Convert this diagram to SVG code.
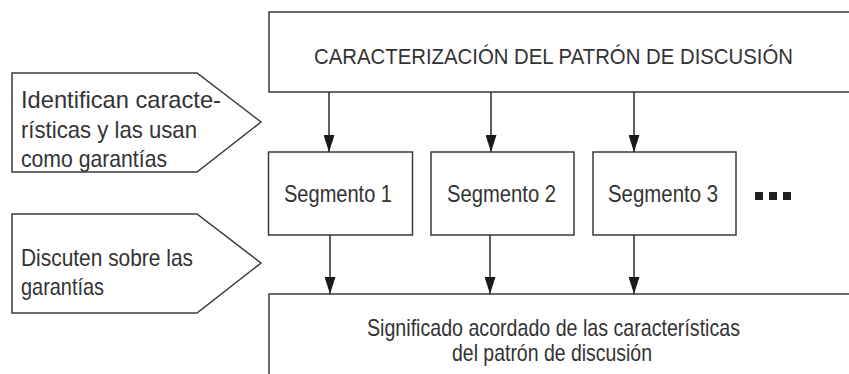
<svg xmlns="http://www.w3.org/2000/svg" width="849" height="374" viewBox="0 0 849 374">
<defs>
<style>
.box{fill:#fff;stroke:#3a3a3a;stroke-width:1.5}
.t{font-family:"Liberation Sans",Arial,sans-serif;font-size:24px;fill:#333}
.c{stroke:#2b2b2b;stroke-width:1.5;fill:none;marker-end:url(#ah)}
.dot{fill:#231f20}
</style>
<marker id="ah" viewBox="0 0 17 11" refX="17" refY="5.5" markerWidth="17" markerHeight="11" markerUnits="userSpaceOnUse" orient="auto">
<path d="M0,0 L17,5.5 L0,11 Z" fill="#1a1a1a"/>
</marker>
</defs>
<g id="top">
<path class="box" d="M849,12 H269 V92 H849"/>
<text class="t" x="314" y="64" style="font-size:21.5px" textLength="479" lengthAdjust="spacingAndGlyphs">CARACTERIZACIÓN DEL PATRÓN DE DISCUSIÓN</text>
</g>
<g id="note1">
<polygon class="box" points="12,73 197,73 261,122 197,172 12,172"/>
<text class="t" x="21" y="108" textLength="200" lengthAdjust="spacingAndGlyphs">Identifican caracte-</text>
<text class="t" x="21" y="138" textLength="176" lengthAdjust="spacingAndGlyphs">rísticas y las usan</text>
<text class="t" x="21" y="167" textLength="146" lengthAdjust="spacingAndGlyphs">como garantías</text>
</g>
<g id="note2">
<polygon class="box" points="12,214 197,214 261,263 197,313 12,313"/>
<text class="t" x="21" y="266" textLength="172" lengthAdjust="spacingAndGlyphs">Discuten sobre las</text>
<text class="t" x="21" y="295" textLength="83" lengthAdjust="spacingAndGlyphs">garantías</text>
</g>
<g id="seg1">
<rect class="box" x="268.5" y="152" width="144" height="83"/>
<text class="t" x="284" y="202" textLength="108" lengthAdjust="spacingAndGlyphs">Segmento 1</text>
</g>
<g id="seg2">
<rect class="box" x="431" y="152" width="143" height="83"/>
<text class="t" x="447" y="202" textLength="109" lengthAdjust="spacingAndGlyphs">Segmento 2</text>
</g>
<g id="seg3">
<rect class="box" x="593" y="152" width="143" height="83"/>
<text class="t" x="608" y="202" textLength="110" lengthAdjust="spacingAndGlyphs">Segmento 3</text>
</g>
<g id="more">
<rect class="dot" x="755" y="192" width="8" height="8"/>
<rect class="dot" x="769" y="192" width="8" height="8"/>
<rect class="dot" x="783" y="192" width="8" height="8"/>
</g>
<g id="bottom">
<path class="box" d="M849,294 H269 V374"/>
<text class="t" x="367" y="336" textLength="373" lengthAdjust="spacingAndGlyphs">Significado acordado de las características</text>
<text class="t" x="452" y="361" textLength="200" lengthAdjust="spacingAndGlyphs">del patrón de discusión</text>
</g>
<g id="connectors">
<line class="c" x1="329" y1="92" x2="329" y2="152"/>
<line class="c" x1="491" y1="92" x2="491" y2="152"/>
<line class="c" x1="634" y1="92" x2="634" y2="152"/>
<line class="c" x1="330" y1="235" x2="330" y2="294"/>
<line class="c" x1="490" y1="235" x2="490" y2="294"/>
<line class="c" x1="634" y1="235" x2="634" y2="294"/>
</g>
</svg>
